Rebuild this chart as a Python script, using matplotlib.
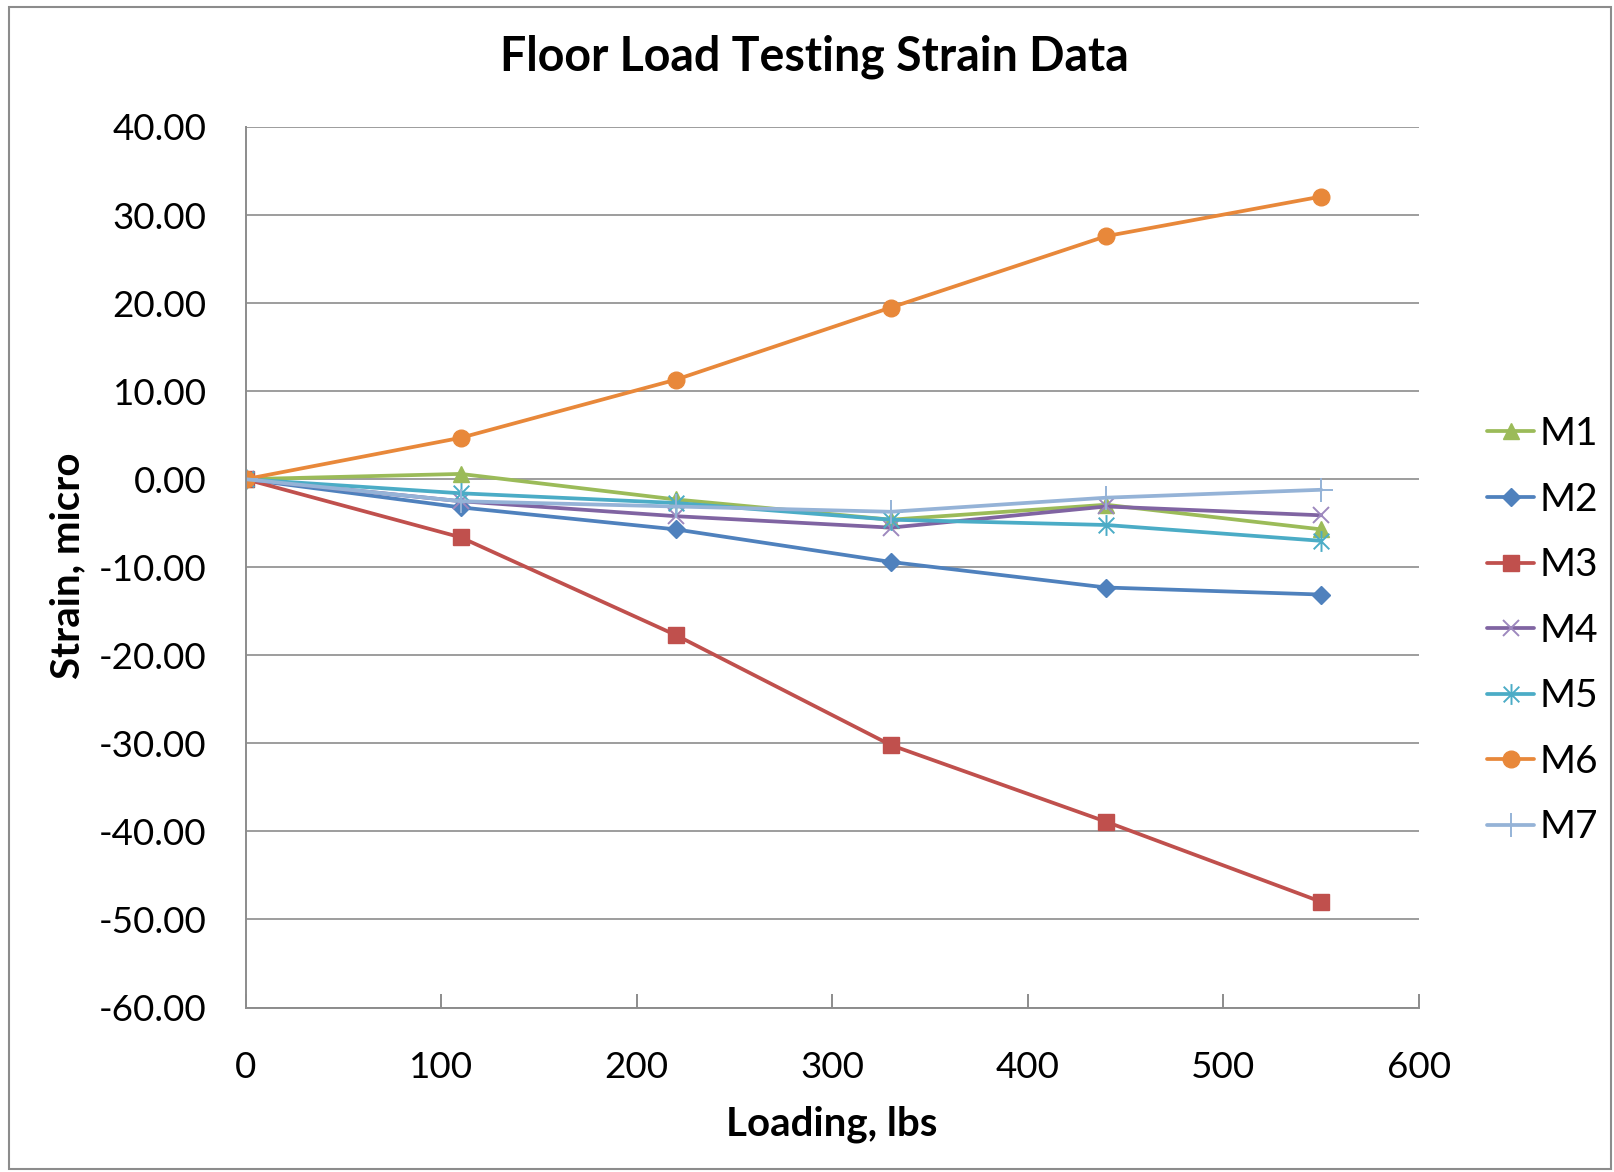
import matplotlib
matplotlib.use("Agg")
import matplotlib.pyplot as plt
from matplotlib.path import Path
from matplotlib.patches import Rectangle

plt.rcParams['font.family'] = ['Lato', 'DejaVu Sans']

# Applied load (lbs)
loading = [0, 110, 220, 330, 440, 550]

# Strain readings per gauge
m1 = [0.0, 0.6, -2.3, -4.6, -2.9, -5.7]
m2 = [0.0, -3.2, -5.7, -9.4, -12.3, -13.1]
m3 = [0.0, -6.6, -17.7, -30.2, -38.9, -48.0]
m4 = [0.0, -2.5, -4.2, -5.5, -3.1, -4.1]
m5 = [0.0, -1.6, -2.7, -4.6, -5.2, -7.0]
m6 = [0.0, 4.7, 11.3, 19.5, 27.6, 32.1]
m7 = [0.0, -2.5, -3.1, -3.7, -2.1, -1.2]

series_names = ["M1", "M2", "M3", "M4", "M5", "M6", "M7"]
series_values = [m1, m2, m3, m4, m5, m6, m7]

y_ticks = [40, 30, 20, 10, 0, -10, -20, -30, -40, -50, -60]
x_ticks = [0, 100, 200, 300, 400, 500, 600]

# Asterisk marker: vertical stroke plus a diagonal cross
asterisk = Path(
    [(0, -1), (0, 1), (-0.75, -0.75), (0.75, 0.75), (-0.75, 0.75), (0.75, -0.75)],
    [Path.MOVETO, Path.LINETO, Path.MOVETO, Path.LINETO, Path.MOVETO, Path.LINETO],
)

styles = [
    dict(color="#9BBB59", marker="^", ms=11, mew=1.0),
    dict(color="#4F81BD", marker="D", ms=9, mew=1.0),
    dict(color="#C0504D", marker="s", ms=11.5, mew=1.0),
    dict(color="#8064A2", marker="x", ms=12, mew=1.4, mec="#9D88BE"),
    dict(color="#4BACC6", marker=asterisk, ms=15, mew=1.4),
    dict(color="#E8883A", marker="o", ms=12, mew=1.0),
    dict(color="#95B3D7", marker="+", ms=17, mew=1.4),
]

fig = plt.figure(figsize=(16.14, 11.72), dpi=100)
ax = fig.add_axes([245.5 / 1614, 1 - 1007.5 / 1172, (1419 - 245.5) / 1614, (1007.5 - 127) / 1172])

# Chart-area border
fig.patches.append(Rectangle((9 / 1614, 1 - 1169 / 1172), (1611 - 9) / 1614, (1169 - 7) / 1172,
                             transform=fig.transFigure, fill=False, edgecolor="#8C8C8C", lw=1.5))

for name, vals, st in zip(series_names, series_values, styles):
    ax.plot(loading, vals, label=name, lw=2.7, solid_capstyle="round", **st)

ax.set_xlim(0, 600)
ax.set_ylim(-60, 40)
ax.set_xticks(x_ticks)
ax.set_yticks(y_ticks)
ax.set_yticklabels([f"{v:.2f}" for v in y_ticks])
ax.yaxis.grid(True, color="#8C8C8C", lw=1.2)
ax.set_axisbelow(True)

for side in ("top", "right"):
    ax.spines[side].set_visible(False)
for side in ("left", "bottom"):
    ax.spines[side].set_color("#8C8C8C")
    ax.spines[side].set_linewidth(1.4)

ax.tick_params(axis="x", direction="in", length=10, width=1.4, color="#8C8C8C",
               labelsize=26.5, pad=31)
ax.tick_params(axis="y", length=0, labelsize=26.5, pad=28)

fig.text(814 / 1614, 1 - 57 / 1172, "Floor Load Testing Strain Data",
         ha="center", va="center", fontsize=33.5, fontweight="bold")
fig.text(68 / 1614, 1 - 566 / 1172, "Strain, micro", rotation=90,
         ha="center", va="center", fontsize=29, fontweight="bold")
fig.text(832 / 1614, 1 - 1124 / 1172, "Loading, lbs",
         ha="center", va="center", fontsize=29, fontweight="bold")

leg = fig.legend(loc="upper left", bbox_to_anchor=(1487 / 1614, 1 - 416 / 1172),
                 frameon=False, fontsize=28, handlelength=1.21, handletextpad=0.13,
                 labelspacing=0.76, borderaxespad=0, borderpad=0)

fig.savefig("out.png", dpi=100, facecolor="white")
